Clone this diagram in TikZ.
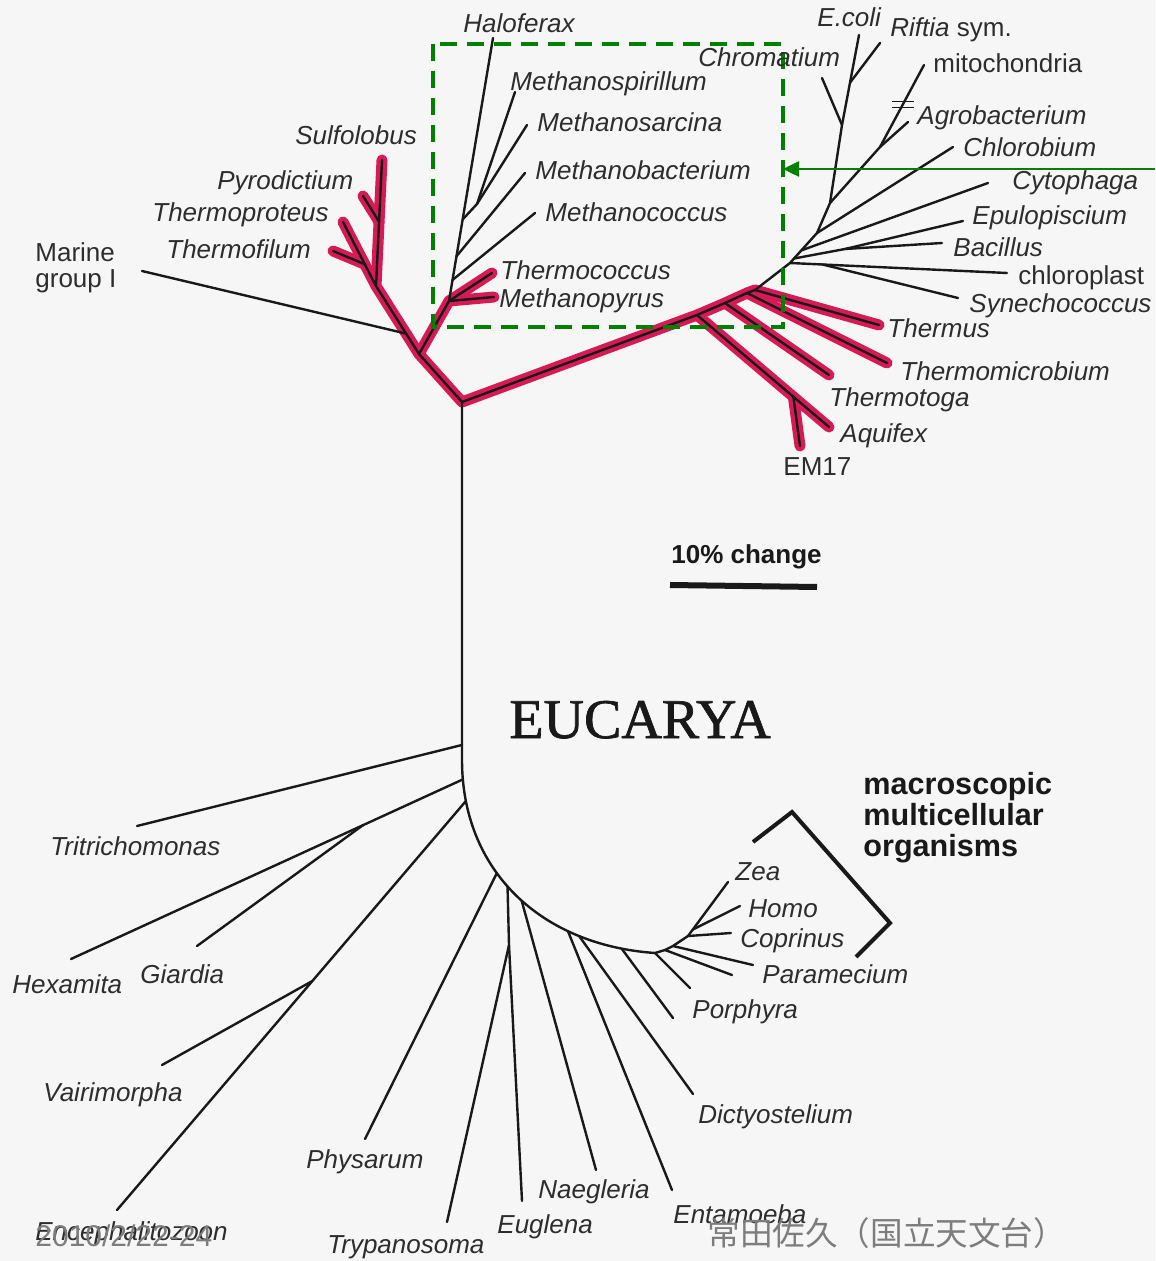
\documentclass[tikz,border=0pt]{standalone}
\usepackage{fontspec}
\setmainfont{Liberation Sans}
\newfontfamily\eucfont[FakeBold=1.2]{Liberation Serif}
\newfontfamily\cjkfont{Noto Sans CJK JP}
\usetikzlibrary{arrows.meta}
\definecolor{bg}{RGB}{246,246,246}
\definecolor{ink}{RGB}{25,25,25}
\definecolor{txt}{RGB}{45,45,45}
\definecolor{hot}{RGB}{215,25,85}
\definecolor{grn}{RGB}{0,128,0}
\definecolor{stamp}{RGB}{125,125,125}
\begin{document}
\begin{tikzpicture}[x=0.5pt,y=-0.5pt,
  br/.style={draw=ink, line width=1.2pt, line cap=round, line join=round},
  hb/.style={draw=hot, line width=5.5pt, line cap=round, line join=round},
  lab/.style={anchor=base west, inner sep=0pt, text=txt, font=\fontsize{13}{15}\selectfont\itshape},
  labu/.style={lab, font=\fontsize{13}{15}\selectfont},
  labb/.style={lab, text=ink, font=\fontsize{13}{15}\selectfont\bfseries},
  labm/.style={lab, text=ink, font=\fontsize{15.3}{18}\selectfont\bfseries},
  gbox/.style={draw=grn, line width=2pt, dash pattern=on 8.5pt off 5pt},
  garrow/.style={draw=grn, line width=1.3pt, -{Triangle[length=8pt,width=7.5pt]}},
  bracket/.style={draw=ink, line width=2pt, line join=miter},
  scalebar/.style={draw=ink, line width=3pt}
]
\fill[bg] (0,0) rectangle (1155,1261);
\useasboundingbox (0,0) rectangle (1155,1261);

% ---------- coordinates: archaea ----------
\coordinate (R) at (462,402);
\coordinate (A) at (419,354);
\coordinate (B) at (376,286);
\coordinate (tSulf) at (382,160);
\coordinate (tPyro) at (363,196);
\coordinate (tTprot) at (343,222);
\coordinate (tTfil) at (333,251);
\coordinate (tMarine) at (142,271);
\coordinate (E) at (449,301);
\coordinate (tHalo) at (493,38);
\coordinate (tMpyr) at (494,297);
\coordinate (tTcoc) at (492,273);
\coordinate (tMcoc) at (535,213);
\coordinate (tMbac) at (525,173);
\coordinate (Msr) at (477,204);
\coordinate (tMspi) at (515,92);
\coordinate (tMsar) at (527,125);
\path (B) -- (tSulf) coordinate[pos=0.51] (pyroN);
\path (B) -- (tTprot) coordinate[pos=0.34] (tfilN);
\path (A) -- (B) coordinate[pos=0.3] (marN);
\path (E) -- (tHalo) coordinate[pos=0.08] (mcocN) coordinate[pos=0.17] (mbacN) coordinate[pos=0.31] (msrJ);

% ---------- coordinates: bacteria ----------
\coordinate (b1) at (697,315);
\coordinate (b2) at (725,303);
\coordinate (b3) at (747,293);
\coordinate (b4) at (755,290);
\coordinate (bn) at (790,263);
\coordinate (tAqui) at (829,427);
\coordinate (tEM17) at (800,446);
\coordinate (tTtog) at (829,375);
\coordinate (tTmic) at (887,363);
\coordinate (tTherm) at (879,325);
\path (b1) -- (tAqui) coordinate[pos=0.73] (EMn);
\coordinate (c2) at (817,233);
\coordinate (P) at (830,203);
\coordinate (Q) at (842,125);
\coordinate (tEcoli) at (859,35);
\coordinate (tRift) at (880,43);
\coordinate (tChrom) at (822,78);
\coordinate (Ag) at (880,147);
\coordinate (tMito) at (924,65);
\coordinate (tAgro) at (908,122);
\coordinate (tChlb) at (953,147);
\coordinate (tCyto) at (988,183);
\coordinate (EBn) at (845,249);
\coordinate (tBac) at (942,243);
\coordinate (tEpu) at (963,221);
\coordinate (tChlp) at (1007,273);
\coordinate (tSyn) at (958,298);
\path (bn) -- (c2) coordinate[pos=0.15] (ebJ) coordinate[pos=0.42] (c1);
\path (Q) -- (tEcoli) coordinate[pos=0.47] (Rr);
\path (bn) -- (tChlp) coordinate[pos=0.15] (synN);
\path (Ag) -- (tMito) coordinate[pos=0.52] (tick);

% ---------- coordinates: eucarya ----------
\coordinate (V1) at (462,760);
\coordinate (K0) at (655,953);
\path (R) -- (V1) coordinate[pos=0.958] (trN);
\path (V1) .. controls (462,870) and (540,945) .. (K0)
  coordinate[pos=0.06] (dipN) coordinate[pos=0.13] (micN)
  coordinate[pos=0.40] (physN) coordinate[pos=0.46] (eugN)
  coordinate[pos=0.53] (naeN) coordinate[pos=0.72] (entN)
  coordinate[pos=0.76] (dicN) coordinate[pos=0.90] (porN);
\coordinate (tTrit) at (137,826);
\coordinate (tHex) at (71,959);
\coordinate (tGia) at (197,946);
\coordinate (tEnc) at (117,1210);
\coordinate (tVai) at (162,1065);
\coordinate (tPhys) at (365,1139);
\coordinate (EU) at (509,945);
\coordinate (tTryp) at (447,1222);
\coordinate (tEug) at (522,1201);
\coordinate (tNae) at (596,1170);
\coordinate (tEnt) at (672,1190);
\coordinate (tDic) at (693,1094);
\coordinate (tPor) at (673,1018);
\coordinate (K1) at (665,950);
\coordinate (K2) at (673,946);
\coordinate (K3) at (688,936);
\coordinate (tX1) at (690,988);
\coordinate (tX2) at (732,975);
\coordinate (tPara) at (753,965);
\coordinate (tZea) at (728,882);
\coordinate (tHomo) at (740,906);
\coordinate (tCopr) at (731,933);
\path (dipN) -- (tHex) coordinate[pos=0.255] (giaN);
\path (micN) -- (tEnc) coordinate[pos=0.44] (vaiN);
\path (K3) -- (tZea) coordinate[pos=0.12] (homN);

% ---------- red highlight ----------
\draw[hb] (R) -- (A) -- (B) -- (tSulf);
\draw[hb] (B) -- (tTprot);
\draw[hb] (pyroN) -- (tPyro);
\draw[hb] (tfilN) -- (tTfil);
\draw[hb] (A) -- (E) -- (tMpyr);
\draw[hb] (E) -- (tTcoc);
\draw[hb] (R) -- (b1) -- (b2) -- (b3) -- (b4);
\draw[hb] (b1) -- (tAqui);
\draw[hb] (EMn) -- (tEM17);
\draw[hb] (b2) -- (tTtog);
\draw[hb] (b3) -- (tTmic);
\draw[hb] (b4) -- (tTherm);

% ---------- black branches: archaea ----------
\draw[br] (R) -- (A) -- (B) -- (tSulf);
\draw[br] (B) -- (tTprot);
\draw[br] (pyroN) -- (tPyro);
\draw[br] (tfilN) -- (tTfil);
\draw[br] (marN) -- (tMarine);
\draw[br] (A) -- (E) -- (tHalo);
\draw[br] (E) -- (tMpyr);
\draw[br] (E) -- (tTcoc);
\draw[br] (mcocN) -- (tMcoc);
\draw[br] (mbacN) -- (tMbac);
\draw[br] (msrJ) -- (Msr) -- (tMspi);
\draw[br] (Msr) -- (tMsar);

% ---------- black branches: bacteria ----------
\draw[br] (R) -- (b1) -- (b2) -- (b3) -- (b4) -- (bn);
\draw[br] (b1) -- (tAqui);
\draw[br] (EMn) -- (tEM17);
\draw[br] (b2) -- (tTtog);
\draw[br] (b3) -- (tTmic);
\draw[br] (b4) -- (tTherm);
\draw[br] (bn) -- (c2) -- (P) -- (Q) -- (tEcoli);
\draw[br] (Rr) -- (tRift);
\draw[br] (Q) -- (tChrom);
\draw[br] (P) -- (Ag) -- (tMito);
\draw[br] (Ag) -- (tAgro);
\draw[br] (c2) -- (tChlb);
\draw[br] (c1) -- (tCyto);
\draw[br] (ebJ) -- (EBn) -- (tBac);
\draw[br] (EBn) -- (tEpu);
\draw[br] (bn) -- (tChlp);
\draw[br] (synN) -- (tSyn);
\draw[draw=ink, line width=0.8pt] ([shift={(-11,-3)}]tick) -- ++(22,0);
\draw[draw=ink, line width=0.8pt] ([shift={(-11,3)}]tick) -- ++(22,0);

% ---------- black branches: eucarya ----------
\draw[br] (R) -- (V1) .. controls (462,870) and (540,945) .. (K0) -- (K1) -- (K2) -- (K3);
\draw[br] (trN) -- (tTrit);
\draw[br] (dipN) -- (tHex);
\draw[br] (giaN) -- (tGia);
\draw[br] (micN) -- (tEnc);
\draw[br] (vaiN) -- (tVai);
\draw[br] (physN) -- (tPhys);
\draw[br] (eugN) -- (EU) -- (tTryp);
\draw[br] (EU) -- (tEug);
\draw[br] (naeN) -- (tNae);
\draw[br] (entN) -- (tEnt);
\draw[br] (dicN) -- (tDic);
\draw[br] (porN) -- (tPor);
\draw[br] (K0) -- (tX1);
\draw[br] (K1) -- (tX2);
\draw[br] (K2) -- (tPara);
\draw[br] (K3) -- (tZea);
\draw[br] (homN) -- (tHomo);
\draw[br] (K3) -- (tCopr);

% ---------- bracket & scale bar ----------
\coordinate (brA) at (753,842);
\coordinate (brB) at (792,812);
\coordinate (brC) at (890,923);
\coordinate (brD) at (856,957);
\draw[bracket] (brA) -- (brB) -- (brC) -- (brD);
\coordinate (sbL) at (670,585);
\coordinate (sbR) at (817,587);
\draw[scalebar] (sbL) -- (sbR);

% ---------- green box & arrow ----------
\coordinate (boxNW) at (433,44);
\coordinate (boxSE) at (783,327);
\draw[gbox] (boxNW) rectangle (boxSE);
\coordinate (arrTail) at (1155,169);
\draw[garrow] (arrTail) -- (arrTail -| boxSE);

% ---------- labels: archaea ----------
\node[lab] (lHalo) at (463,33) {Haloferax};
\node[lab] (lMspi) at (510,91) {Methanospirillum};
\node[lab] (lMsar) at (537,132) {Methanosarcina};
\node[lab] (lMbac) at (535,180) {Methanobacterium};
\node[lab] (lMcoc) at (545,222) {Methanococcus};
\node[lab] (lTcoc) at (500,280) {Thermococcus};
\node[lab] (lMpyr) at (499,308) {Methanopyrus};
\node[lab] (lSulf) at (295,145) {Sulfolobus};
\node[lab] (lPyro) at (217,190) {Pyrodictium};
\node[lab] (lTprot) at (152,222) {Thermoproteus};
\node[lab] (lTfil) at (166,259) {Thermofilum};
\node[labu] (lMar1) at (35,262) {Marine};
\node[labu] (lMar2) at (35,288) {group I};

% ---------- labels: bacteria ----------
\node[lab] (lChrom) at (698,67) {Chromatium};
\node[lab] (lEcoli) at (817,27) {E.coli};
\node[lab] (lRift) at (890,37) {Riftia\upshape{} sym.};
\node[labu] (lMito) at (933,73) {mitochondria};
\node[lab] (lAgro) at (917,125) {Agrobacterium};
\node[lab] (lChlb) at (963,157) {Chlorobium};
\node[lab] (lCyto) at (1012,190) {Cytophaga};
\node[lab] (lEpu) at (972,225) {Epulopiscium};
\node[lab] (lBac) at (953,257) {Bacillus};
\node[labu] (lChlp) at (1018,285) {chloroplast};
\node[lab] (lSyn) at (969,313) {Synechococcus};
\node[lab] (lTherm) at (887,338) {Thermus};
\node[lab] (lTmic) at (900,380) {Thermomicrobium};
\node[lab] (lTtog) at (829,407) {Thermotoga};
\node[lab] (lAqui) at (840,442) {Aquifex};
\node[labu] (lEM17) at (783,475) {EM17};

% ---------- labels: eucarya ----------
\node[lab] (lTrit) at (50,855) {Tritrichomonas};
\node[lab] (lHex) at (12,993) {Hexamita};
\node[lab] (lGia) at (140,983) {Giardia};
\node[lab] (lVai) at (43,1101) {Vairimorpha};
\node[lab] (lEnc) at (35,1240) {Encephalitozoon};
\node[lab] (lPhys) at (306,1168) {Physarum};
\node[lab] (lTryp) at (327,1253) {Trypanosoma};
\node[lab] (lEug) at (497,1233) {Euglena};
\node[lab] (lNae) at (538,1198) {Naegleria};
\node[lab] (lEnt) at (673,1223) {Entamoeba};
\node[lab] (lDic) at (698,1123) {Dictyostelium};
\node[lab] (lPor) at (692,1018) {Porphyra};
\node[lab] (lPara) at (762,983) {Paramecium};
\node[lab] (lCopr) at (740,947) {Coprinus};
\node[lab] (lHomo) at (748,917) {Homo};
\node[lab] (lZea) at (735,880) {Zea};

% ---------- other texts ----------
\node[labb] (lScale) at (671,563) {10\% change};
\node[labm] (lMac1) at (863,794) {macroscopic};
\node[labm] (lMac2) at (863,825) {multicellular};
\node[labm] (lMac3) at (863,856) {organisms};
\node[anchor=base west, inner sep=0pt, text=ink, font=\eucfont\fontsize{28}{31}\selectfont] (lEuc) at (509,738) {EUCARYA};
\node[anchor=base west, inner sep=0pt, text=stamp, font=\fontsize{15}{18}\selectfont] (lDate) at (35,1246) {2010/2/22-24};
\node[anchor=base west, inner sep=0pt, text=stamp, font=\cjkfont\fontsize{16.3}{19}\selectfont] (lAuth) at (707,1245) {常田佐久（国立天文台）};
\end{tikzpicture}
\end{document}
